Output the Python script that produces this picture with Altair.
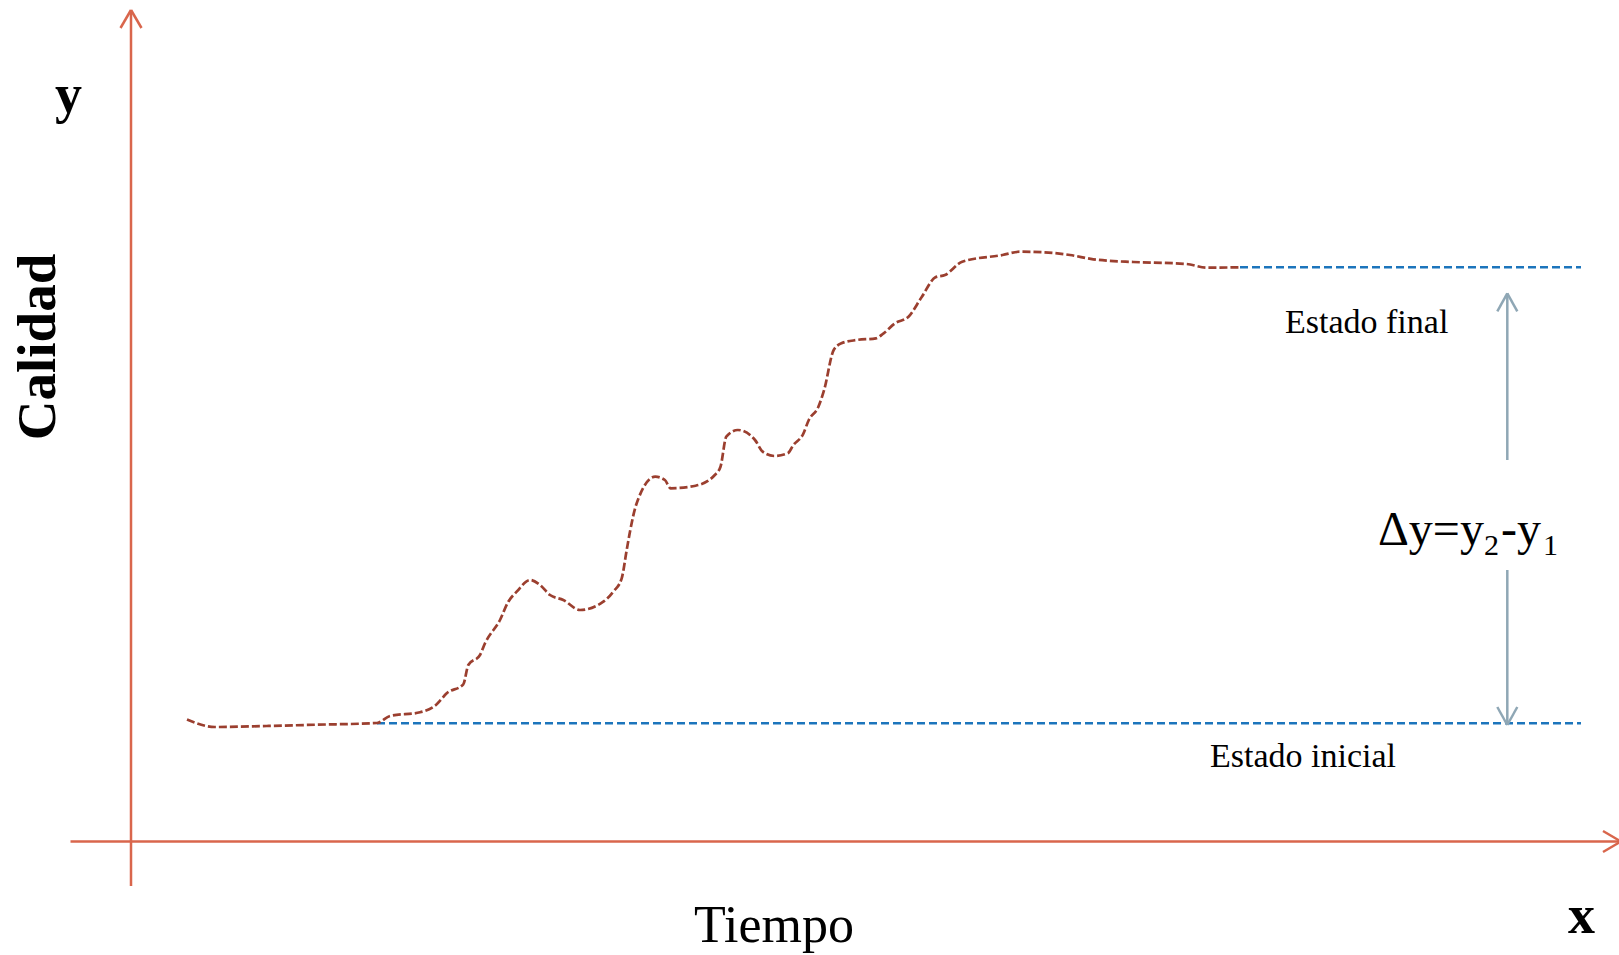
import altair as alt
import pandas as pd

# ---- data (x = Tiempo, y = Calidad, origin at the axes crossing) ----
tiempo = [56, 83.8, 135.7, 185.7, 246, 259, 289, 305.7, 315.7, 332.3, 337.3, 349, 354, 369,
          377.3, 385.7, 399, 409, 419, 432.3, 449, 472.3, 482.3, 490.7, 495.7, 499.3, 505.1,
          524.3, 533.9, 539.6, 564.6, 583.8, 589.5, 595.3, 606.8, 624, 631.7, 643.2, 656.7,
          662.4, 672, 677.8, 687.4, 693.1, 702.7, 710.4, 725.7, 744.9, 752.6, 764.1, 777.5,
          790.9, 804.4, 814, 831.2, 871.5, 888.8, 912.3, 939, 962.3, 975.7, 1002.3, 1055.7,
          1075.7, 1109]
calidad = [121.9, 114.5, 115.5, 116.8, 118.5, 125.5, 129.2, 137.2, 148.2, 157.2, 176.5, 186.5,
           198.2, 221.5, 239.8, 249.8, 261.5, 256.5, 246.5, 241.5, 231.5, 239.8, 249.8, 263.2,
           291.5, 311.5, 336.5, 364.8, 361.5, 353.2, 355.8, 366.5, 374.8, 404.8, 411.5, 401.5,
           389.8, 385.5, 388.2, 396.5, 407.2, 421.5, 434.8, 451.5, 491.5, 498.2, 501.5, 503.2,
           508.2, 518.2, 524.8, 544.8, 564.2, 566.5, 579.8, 586.5, 589.8, 589.2, 586.5, 582.2,
           580.8, 579.5, 577.5, 573.8, 574.2]

y1 = 118.2            # estado inicial
y2 = 574.2            # estado final
y1_start, y2_start, ref_end = 246, 1109, 1450

# axes (with open arrow heads)
axis_x0, axis_x1 = -60.5, 1490
axis_y0, axis_y1 = -44.5, 831.5
head_len, head_half = 18, 10.5

# delta arrow
delta_t = 1376.3
delta_top = [381.5, 548.2]
delta_bot = [271.5, 116.5]

labels = ["Estado final", "Estado inicial", "Tiempo", "x", "y", "Calidad"]
label_t = [1154, 1079, 563, 1437, -76, -76]
label_q = [508.2, 74.8, -100.1, -91.5, 729.5, 494.5]

# formula Δy = y2 - y1, written in pieces (normal text and subscripts)
formula_parts = ["Δy=y", "2", "-y", "1"]
formula_t = [1247, 1353, 1370, 1412]
formula_q = [296.5, 286.5, 296.5, 286.5]

# ---- scales ----
W, H = 1619, 955
xs = alt.Scale(domain=[-131, 1488], nice=False, zero=False)
ys = alt.Scale(domain=[-113.5, 841.5], nice=False, zero=False)

AXIS_C = "#D9664C"
CURVE_C = "#9B3F2F"
BLUE_C = "#1C75BC"
ARROW_C = "#8FA7B5"


def seg_df(rows):
    return pd.DataFrame(rows, columns=["t", "q", "t2", "q2"])


axes_df = seg_df([
    [axis_x0, 0, axis_x1, 0],
    [axis_x1 - head_len, head_half, axis_x1, 0],
    [axis_x1 - head_len, -head_half, axis_x1, 0],
    [0, axis_y0, 0, axis_y1],
    [-head_half, axis_y1 - head_len, 0, axis_y1],
    [head_half, axis_y1 - head_len, 0, axis_y1],
])

delta_df = seg_df([
    [delta_t, delta_top[0], delta_t, delta_top[1]],
    [delta_t - 10, delta_top[1] - 18, delta_t, delta_top[1]],
    [delta_t + 10, delta_top[1] - 18, delta_t, delta_top[1]],
    [delta_t, delta_bot[0], delta_t, delta_bot[1]],
    [delta_t - 10, delta_bot[1] + 18, delta_t, delta_bot[1]],
    [delta_t + 10, delta_bot[1] + 18, delta_t, delta_bot[1]],
])

ref_df = seg_df([
    [y1_start, y1, ref_end, y1],
    [y2_start, y2, ref_end, y2],
])

curve_df = pd.DataFrame({"t": tiempo, "q": calidad})


def rules(df, color, width, dash=None):
    kw = dict(color=color, strokeWidth=width, strokeCap="butt")
    if dash:
        kw["strokeDash"] = dash
    return alt.Chart(df).mark_rule(**kw).encode(
        x=alt.X("t:Q", scale=xs, axis=None),
        y=alt.Y("q:Q", scale=ys, axis=None),
        x2="t2:Q",
        y2="q2:Q",
    )


axes_layer = rules(axes_df, AXIS_C, 2.5)
delta_layer = rules(delta_df, ARROW_C, 2.5)
ref_layer = rules(ref_df, BLUE_C, 2.6, [8, 4])

curve_layer = alt.Chart(curve_df).mark_line(
    color=CURVE_C, strokeWidth=2.7, strokeDash=[8, 3], interpolate="monotone"
).encode(
    x=alt.X("t:Q", scale=xs, axis=None),
    y=alt.Y("q:Q", scale=ys, axis=None),
)

styles = [
    dict(fontSize=34, fontWeight="normal", angle=0, align="left"),
    dict(fontSize=34, fontWeight="normal", angle=0, align="left"),
    dict(fontSize=52, fontWeight="normal", angle=0, align="left"),
    dict(fontSize=54, fontWeight="bold", angle=0, align="left"),
    dict(fontSize=54, fontWeight="bold", angle=0, align="left"),
    dict(fontSize=55, fontWeight="bold", angle=270, align="center"),
]
formula_sizes = [48, 30, 48, 30]


def text_layer(lab, t, q, **st):
    df = pd.DataFrame({"label": [lab], "t": [t], "q": [q]})
    return alt.Chart(df).mark_text(
        font="Liberation Serif", color="#000000", baseline="alphabetic", **st
    ).encode(
        x=alt.X("t:Q", scale=xs, axis=None),
        y=alt.Y("q:Q", scale=ys, axis=None),
        text="label:N",
    )


text_layers = [text_layer(lab, label_t[i], label_q[i], **styles[i])
               for i, lab in enumerate(labels)]
text_layers += [text_layer(p, formula_t[i], formula_q[i], fontSize=formula_sizes[i],
                           align="left")
                for i, p in enumerate(formula_parts)]

chart = alt.layer(
    axes_layer, ref_layer, curve_layer, delta_layer, *text_layers
).properties(
    width=W, height=H, padding=0, autosize=alt.AutoSizeParams(type="none"),
    background="#ffffff",
).configure_view(stroke=None)

chart.save("out.html", embed_options={"renderer": "svg", "actions": False})
